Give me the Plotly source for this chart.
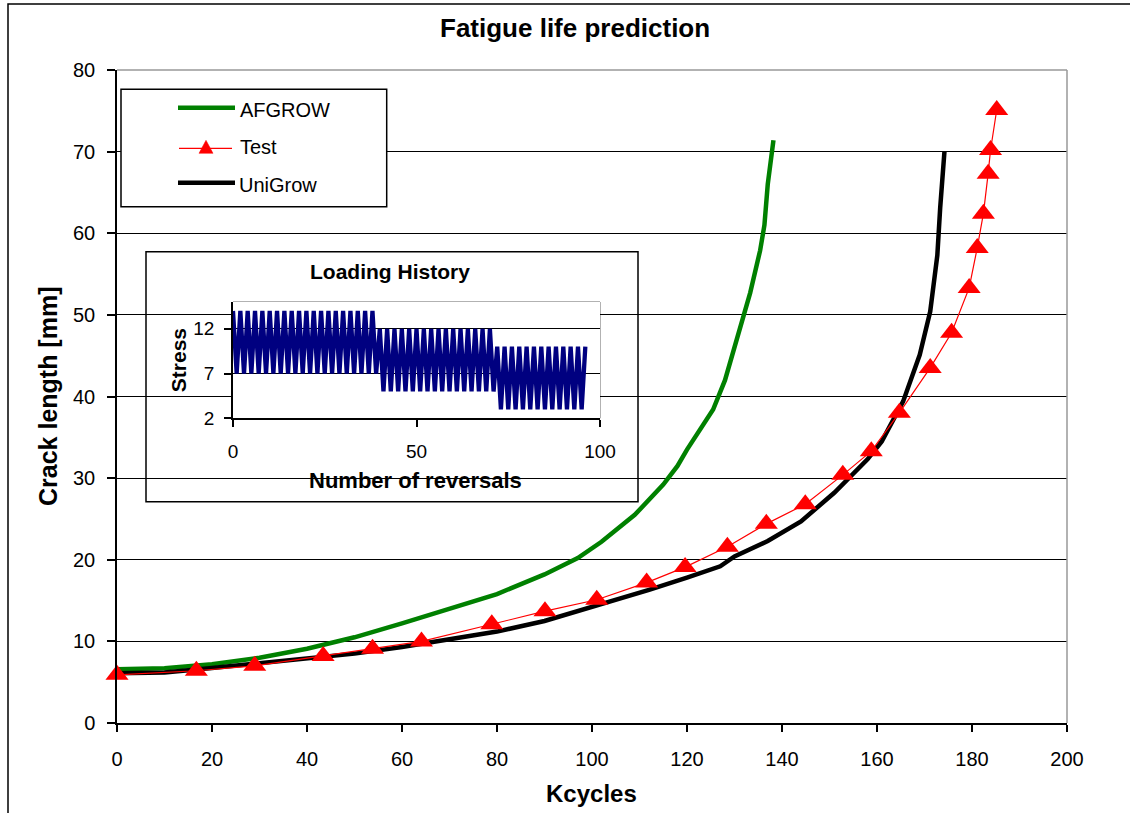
import plotly.graph_objects as go

# ---------------- data ----------------
afgrow_x = [0, 10, 20, 30, 40, 50, 60, 70, 80, 90, 97, 102, 109, 115, 118, 120, 125.5, 128, 131, 133.3, 135.4, 136.3, 137, 138.2]
afgrow_y = [6.6, 6.7, 7.2, 8.0, 9.1, 10.5, 12.2, 14.0, 15.8, 18.2, 20.2, 22.2, 25.5, 29.2, 31.5, 33.5, 38.4, 42.0, 48.3, 52.7, 57.9, 61.0, 66.0, 71.4]

test_x = [0, 16.7, 29, 43.4, 53.8, 64.1, 78.9, 90.1, 101.0, 111.5, 119.6, 128.5, 136.7, 144.9, 152.8, 158.8, 164.7, 171.2, 175.7, 179.4, 181.1, 182.4, 183.4, 183.9, 185.2]
test_y = [5.9, 6.4, 7.0, 8.2, 9.1, 10.0, 12.1, 13.7, 15.1, 17.2, 19.1, 21.6, 24.4, 26.8, 30.4, 33.3, 38.0, 43.5, 47.8, 53.3, 58.2, 62.4, 67.3, 70.2, 75.1]

unigrow_x = [0, 10, 20, 30, 40, 50, 60, 70, 80, 90, 100, 112, 120, 127, 130, 137, 144, 151, 158, 161, 165.5, 169, 171.2, 172.7, 173.3, 174.2]
unigrow_y = [6.1, 6.2, 6.75, 7.3, 7.9, 8.5, 9.3, 10.2, 11.2, 12.5, 14.2, 16.3, 17.8, 19.2, 20.4, 22.3, 24.7, 28.2, 32.3, 34.5, 39.4, 45.1, 50.4, 57.3, 63.1, 70.0]

# loading history (stress at each reversal), three constant-amplitude blocks
load_block1 = [14, 7, 14, 7, 14, 7, 14, 7, 14, 7, 14, 7, 14, 7, 14, 7, 14, 7, 14, 7,
               14, 7, 14, 7, 14, 7, 14, 7, 14, 7, 14, 7, 14, 7, 14, 7, 14, 7, 14, 7]
load_block2 = [12, 5, 12, 5, 12, 5, 12, 5, 12, 5, 12, 5, 12, 5, 12, 5,
               12, 5, 12, 5, 12, 5, 12, 5, 12, 5, 12, 5, 12, 5, 12, 5]
load_block3 = [10, 3, 10, 3, 10, 3, 10, 3, 10, 3, 10, 3, 10, 3, 10, 3,
               10, 3, 10, 3, 10, 3, 10, 3, 10]
load_stress = load_block1 + load_block2 + load_block3
load_rev = list(range(len(load_stress)))

main_xticks = [0, 20, 40, 60, 80, 100, 120, 140, 160, 180, 200]
main_yticks = [0, 10, 20, 30, 40, 50, 60, 70, 80]
inset_xticks = [0, 50, 100]
inset_yticks = [2, 7, 12]

# ---------------- layout helpers (pixel -> paper) ----------------
W, H = 1130, 813
PL, PR, PT, PB = 117, 1067, 70, 723
def px(x):
    return (x - PL) / (PR - PL)
def py(y):
    return (PB - y) / (PB - PT)

IL, IR, IT, IB = 233, 600, 302, 418.3  # inset plot area pixels
def ix(x):
    return (x - IL) / (IR - IL)
def iy(y):
    return (IB - y) / (IB - IT)

FONT = "Arial, Liberation Sans, sans-serif"

fig = go.Figure()

fig.add_trace(go.Scatter(x=afgrow_x, y=afgrow_y, mode="lines", name="AFGROW",
                         line=dict(color="#008000", width=4.5), xaxis="x", yaxis="y"))
fig.add_trace(go.Scatter(x=unigrow_x, y=unigrow_y, mode="lines", name="UniGrow",
                         line=dict(color="#000000", width=4.5), xaxis="x", yaxis="y"))
fig.add_trace(go.Scatter(x=test_x, y=test_y, mode="lines+markers", name="Test",
                         line=dict(color="#FF0000", width=1.2), cliponaxis=False,
                         marker=dict(symbol="triangle-up", size=20, color="#FF0000"),
                         xaxis="x", yaxis="y"))
fig.add_trace(go.Scatter(x=load_rev, y=load_stress, mode="lines", name="Loading",
                         line=dict(color="#000080", width=4.3),
                         xaxis="x2", yaxis="y2"))

shapes = []
# outer chart border
shapes.append(dict(type="rect", xref="paper", yref="paper",
                   x0=px(8), x1=px(1140), y0=py(825), y1=py(4),
                   line=dict(color="#000000", width=1.5), layer="above"))
# plot area grey border (top/right)
shapes.append(dict(type="line", xref="paper", yref="paper", x0=0, x1=1, y0=1, y1=1,
                   line=dict(color="#999999", width=1.5), layer="above"))
shapes.append(dict(type="line", xref="paper", yref="paper", x0=1, x1=1, y0=0, y1=1,
                   line=dict(color="#999999", width=1.5), layer="above"))
# inset box (drawn in inset subplot layer)
shapes.append(dict(type="rect", xref="x2 domain", yref="y2 domain",
                   x0=ix(146), x1=ix(638), y0=iy(501.7), y1=iy(251.7),
                   fillcolor="white", line=dict(color="#000000", width=1.5), layer="below"))
shapes.append(dict(type="line", xref="x2 domain", yref="y2 domain", x0=0, x1=1, y0=1, y1=1,
                   line=dict(color="#999999", width=1.5), layer="below"))
shapes.append(dict(type="line", xref="x2 domain", yref="y2 domain", x0=1, x1=1, y0=0, y1=1,
                   line=dict(color="#999999", width=1.5), layer="below"))
# legend box
shapes.append(dict(type="rect", xref="paper", yref="paper",
                   x0=px(121), x1=px(386.7), y0=py(206.7), y1=py(89.3),
                   fillcolor="white", line=dict(color="#000000", width=1.5), layer="above"))
shapes.append(dict(type="line", xref="paper", yref="paper", x0=px(178), x1=px(235),
                   y0=py(107.7), y1=py(107.7), line=dict(color="#008000", width=4.5), layer="above"))
shapes.append(dict(type="line", xref="paper", yref="paper", x0=px(179), x1=px(232),
                   y0=py(148.3), y1=py(148.3), line=dict(color="#FF0000", width=1.2), layer="above"))
shapes.append(dict(type="path", xref="paper", yref="paper", xsizemode="pixel", ysizemode="pixel",
                   xanchor=px(206), yanchor=py(148.3), path="M-7,-5 L7,-5 L0,8 Z",
                   fillcolor="#FF0000", line=dict(color="#FF0000", width=0.5), layer="above"))
shapes.append(dict(type="line", xref="paper", yref="paper", x0=px(178), x1=px(235),
                   y0=py(182.7), y1=py(182.7), line=dict(color="#000000", width=4.5), layer="above"))

annotations = []
def ann(text, x, y, size, bold=False, angle=0, xanchor="center"):
    annotations.append(dict(text=f"<b>{text}</b>" if bold else text, xref="paper", yref="paper",
                            x=px(x), y=py(y), xanchor=xanchor, yanchor="middle", showarrow=False,
                            textangle=angle, font=dict(family=FONT, size=size, color="#000000")))

ann("Fatigue life prediction", 575, 28, 26, bold=True)
ann("Kcycles", 591, 793, 24, bold=True)
ann("Crack length [mm]", 48, 397, 25, bold=True, angle=-90)
ann("AFGROW", 238, 110, 20, xanchor="left")
ann("Test", 238, 147, 20, xanchor="left")
ann("UniGrow", 237, 185, 20, xanchor="left")
ann("Loading History", 390, 271, 21, bold=True)
ann("Number of reversals", 415, 480, 22, bold=True)
ann("Stress", 178.7, 360.5, 21, bold=True, angle=-90)

fig.update_layout(
    width=W, height=H,
    margin=dict(l=PL, r=W - PR, t=PT, b=H - PB, pad=0),
    paper_bgcolor="white", plot_bgcolor="white",
    showlegend=False,
    font=dict(family=FONT, size=20, color="#000000"),
    xaxis=dict(range=[0, 200], tickvals=main_xticks, showgrid=False, zeroline=False,
               showline=True, linecolor="#000000", linewidth=1.5,
               ticks="outside", ticklen=7, tickwidth=1.5, tickcolor="#000000",
               tickfont=dict(family=FONT, size=20), ticklabelstandoff=10),
    yaxis=dict(range=[0, 80], tickvals=main_yticks, showgrid=True, gridcolor="#000000", gridwidth=1.3,
               zeroline=False, showline=True, linecolor="#000000", linewidth=1.5,
               ticks="outside", ticklen=8, tickwidth=1.5, tickcolor="#000000",
               tickfont=dict(family=FONT, size=20), ticklabelstandoff=8),
    xaxis2=dict(domain=[px(IL), px(IR)], anchor="y2", range=[0, 100], tickvals=inset_xticks,
                showgrid=False, zeroline=False, showline=True, linecolor="#000000", linewidth=1.5,
                ticks="outside", ticklen=7, tickwidth=1.5, tickcolor="#000000",
                tickfont=dict(family=FONT, size=19), ticklabelstandoff=8),
    yaxis2=dict(domain=[py(IB), py(IT)], anchor="x2", range=[2, 15], tickvals=inset_yticks,
                showgrid=True, gridcolor="#000000", gridwidth=1.3, zeroline=False,
                showline=True, linecolor="#000000", linewidth=1.5,
                ticks="outside", ticklen=7, tickwidth=1.5, tickcolor="#000000",
                tickfont=dict(family=FONT, size=19), ticklabelstandoff=6),
    shapes=shapes, annotations=annotations,
)

fig.write_html("out.html", config={"displayModeBar": False},
               post_script="document.body.style.margin='0px';")
